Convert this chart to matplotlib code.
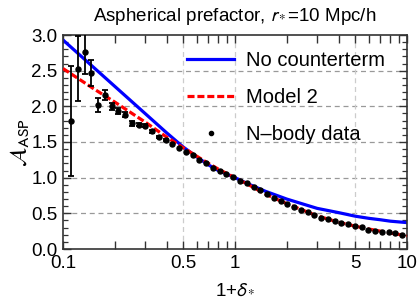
import matplotlib
matplotlib.use("Agg")
import matplotlib.pyplot as plt
from matplotlib.lines import Line2D

plt.rcParams['font.family'] = ['Liberation Sans', 'DejaVu Sans']
plt.rcParams['mathtext.fontset'] = 'stixsans'

# ---- data ----
curve_x = [0.1, 0.15, 0.2, 0.3, 0.4, 0.5, 0.6, 0.7, 0.8, 1.0, 1.2, 1.5, 2, 3, 4, 5, 6, 7, 8, 10]
no_counterterm = [2.93, 2.55, 2.28, 1.90, 1.63, 1.43, 1.29, 1.18, 1.10, 1.00, 0.91, 0.81,
                  0.70, 0.57, 0.51, 0.46, 0.43, 0.41, 0.39, 0.37]
model2 = [2.53, 2.25, 2.06, 1.78, 1.57, 1.42, 1.30, 1.20, 1.12, 1.00, 0.90, 0.77,
          0.635, 0.465, 0.375, 0.32, 0.28, 0.25, 0.225, 0.185]

nbody_x = [0.1113, 0.1218, 0.1334, 0.1460, 0.1598, 0.1750, 0.1916, 0.2097, 0.2296, 0.2513,
           0.2751, 0.3012, 0.3297, 0.3609, 0.3951, 0.4325, 0.4735, 0.5184, 0.5675, 0.6212,
           0.6801, 0.7445, 0.8150, 0.8922, 0.9766, 1.0691, 1.1704, 1.2812, 1.4026, 1.5355,
           1.6810, 1.8402, 2.0144, 2.2052, 2.4141, 2.6424, 2.8929, 3.1667, 3.4667, 3.7951,
           4.1543, 4.5478, 4.9783, 5.4500, 5.9665, 6.5313, 7.1500, 7.8270, 8.5683, 9.3796]
nbody_y = [1.80, 2.53, 2.76, 2.47, 2.02, 2.16, 2.00, 1.93, 1.88, 1.76,
           1.74, 1.73, 1.65, 1.57, 1.53, 1.47, 1.42, 1.365, 1.32, 1.25,
           1.20, 1.14, 1.10, 1.05, 1.005, 0.96, 0.92, 0.875, 0.83, 0.77,
           0.72, 0.67, 0.63, 0.585, 0.55, 0.515, 0.48, 0.44, 0.415, 0.395,
           0.369, 0.35, 0.322, 0.304, 0.266, 0.252, 0.243, 0.234, 0.22, 0.196]
nbody_err = [0.77, 0.45, 0.30, 0.18, 0.10, 0.07, 0.05, 0.04, 0.035, 0.03,
             0.02, 0.02, 0.02, 0.015, 0.015]

xtick_vals = [0.1, 0.2, 0.3, 0.4, 0.5, 0.6, 0.7, 0.8, 0.9, 1, 2, 3, 4, 5, 6, 7, 8, 9, 10]
xtick_labels = ['0.1', '', '', '', '0.5', '', '', '', '', '1', '', '', '', '5', '', '', '', '', '10']
ytick_vals = [0.0, 0.5, 1.0, 1.5, 2.0, 2.5, 3.0]
ytick_labels = ['0.0', '0.5', '1.0', '1.5', '2.0', '2.5', '3.0']
hgrid = [0.5, 1.0, 1.5, 2.0, 2.5]
vgrid = [0.5, 1, 5]

fig = plt.figure(figsize=(4.19, 3.08), dpi=100)
ax = fig.add_axes([63/419, 1-249/308, (407-63)/419, (249-35)/308])

for g in hgrid:
    ax.axhline(g, color='#999999', lw=0.9, ls=(0, (4, 3)), zorder=0)
for g in vgrid:
    ax.axvline(g, color='#cccccc', lw=0.9, ls=(0, (4, 3)), zorder=0)

ax.plot(curve_x, no_counterterm, color='#0000ff', lw=2.3, zorder=2)
ax.plot(curve_x, model2, color='#ff0000', lw=2.3, ls=(0, (2.2, 0.9)), zorder=3)
n = len(nbody_err)
ax.errorbar(nbody_x[:n], nbody_y[:n], yerr=nbody_err, fmt='none', ecolor='black',
            elinewidth=1.3, capsize=2.3, capthick=1.3, zorder=4)
ax.plot(nbody_x, nbody_y, 'o', color='black', ms=3.6, zorder=5)

ax.set_xscale('log')
ax.set_xlim(0.1, 10)
ax.set_ylim(0, 3)
ax.set_xticks(xtick_vals)
ax.set_xticklabels(xtick_labels)
ax.xaxis.set_minor_locator(matplotlib.ticker.NullLocator())
ax.set_yticks(ytick_vals)
ax.set_yticklabels(ytick_labels)
ax.yaxis.set_minor_locator(matplotlib.ticker.MultipleLocator(0.1))
ax.tick_params(which='both', direction='in', top=True, right=True, color='#333333',
               labelsize=13.5, pad=4)
ax.tick_params(which='major', length=6, width=1)
ax.tick_params(which='minor', length=3.5, width=0.9)
for s in ax.spines.values():
    s.set_color('#333333')
    s.set_linewidth(1.2)

ax.set_xlabel(r'1+$\delta_*$', fontsize=13.5, labelpad=7)
ax.set_ylabel(r'$\mathcal{A}_{\mathrm{ASP}}$', fontsize=16.5, labelpad=0)
ax.set_title(r'Aspherical prefactor, $r_*$=10 Mpc/h', fontsize=13.5, pad=10)

handles = [Line2D([], [], color='#0000ff', lw=2.3),
           Line2D([], [], color='#ff0000', lw=2.3, ls=(0, (2.2, 0.9))),
           Line2D([], [], color='black', marker='o', ls='none', ms=3)]
ax.legend(handles, ['No counterterm', 'Model 2', 'N\u2013body data'],
          loc='upper left', bbox_to_anchor=(187/419, 1-51/308), bbox_transform=fig.transFigure,
          frameon=False, fontsize=14.5, handlelength=2.35, handletextpad=0.6,
          labelspacing=0.9, borderpad=0, borderaxespad=0)

fig.savefig('out.png', dpi=100)
